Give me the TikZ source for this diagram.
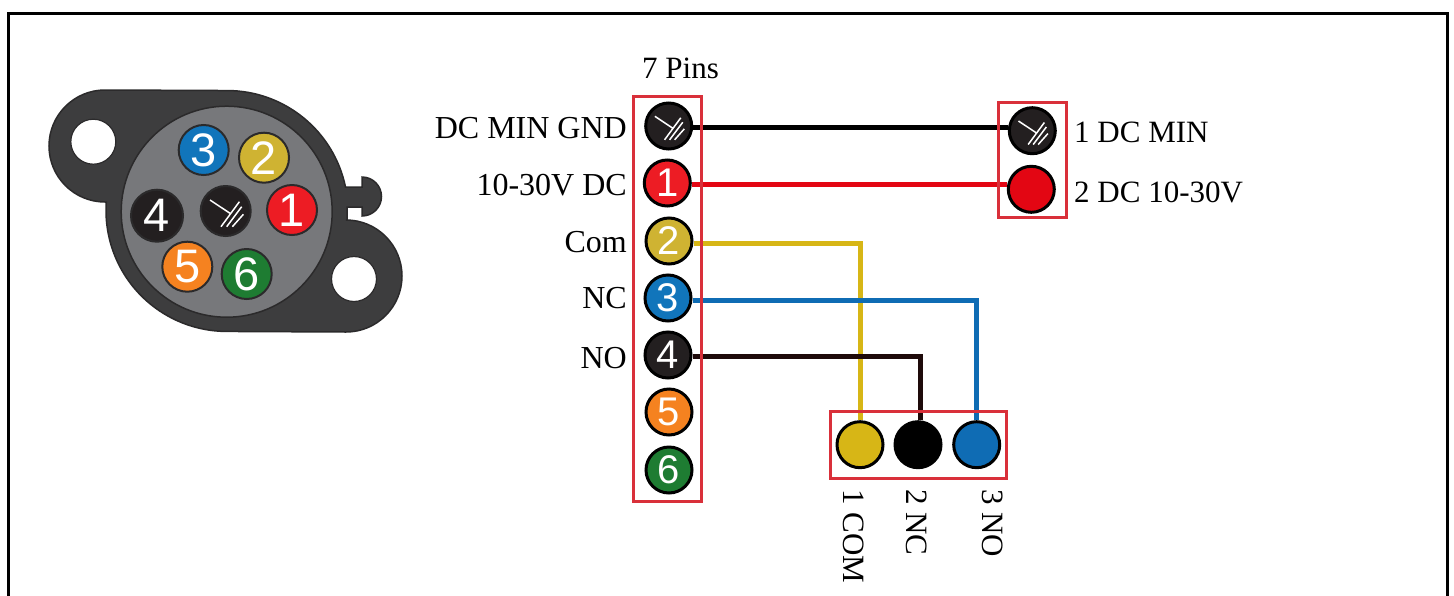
\documentclass[tikz,border=0pt]{standalone}
\usepackage{fontspec}
\setmainfont{Liberation Serif}
\newfontfamily\pinfont{Liberation Sans}
\definecolor{bodyc}{HTML}{3D3D3E}
\definecolor{edgec}{HTML}{2B2A2B}
\definecolor{grayc}{HTML}{77787B}
\definecolor{bluec}{HTML}{1175BB}
\definecolor{yelc}{HTML}{CFB332}
\definecolor{redc}{HTML}{ED1C24}
\definecolor{blkc}{HTML}{231F20}
\definecolor{orac}{HTML}{F58220}
\definecolor{grec}{HTML}{1E7C32}
\definecolor{framec}{HTML}{D9303A}
\definecolor{wyel}{HTML}{D7B616}
\definecolor{wred}{HTML}{E30613}
\definecolor{wblu}{HTML}{0F6CB4}
\definecolor{wbrn}{HTML}{1E0A0A}
\tikzset{
  x=1pt,y=-1pt,
  pinbase/.style={circle,inner sep=0pt,text=white,font=\pinfont\fontsize{40}{40}\selectfont},
  listpin/.style={pinbase,draw=black,line width=3pt,minimum size=46pt,fill=#1},
  plainpin/.style={pinbase,draw=black,line width=3pt,minimum size=46pt,fill=#1},
  sockpin/.style={pinbase,draw=edgec,line width=2pt,minimum size=50pt,fill=#1,font=\pinfont\fontsize{47}{47}\selectfont},
  wire/.style={line width=#1,line join=miter},
  redframe/.style={draw=framec,line width=3pt,inner sep=0pt,fill=none},
  lab/.style={font=\fontsize{31}{31}\selectfont,inner sep=0pt,text=black},
  leftlab/.style={font=\fontsize{32}{32}\selectfont,inner sep=0pt,text=black,anchor=base east},
  hole/.style={circle,fill=white,draw=edgec,line width=1.2pt,inner sep=0pt,minimum size=45pt},
  gnd/.pic={
    \draw[white,line width=1.5pt,scale=#1]
      (-15.7,-11)--(4.3,2.3) (13.7,-9.3)--(-4.7,15.7) (16,-4.3)--(1,15.7) (17.7,3.3)--(6.7,15.7);
  },
}
\begin{document}
\begin{tikzpicture}
\useasboundingbox (0,0) rectangle (1454,595);
\fill[white] (0,0) rectangle (1454,595);
% outer frame
\draw[black,line width=3pt,line join=miter] (8,597)--(8,13.5)--(1447,13.5)--(1447,597);
% connector body
\draw[fill=bodyc,draw=edgec,line width=1.5pt]
  (105,90) arc[start angle=-90,end angle=-270,radius=56]
  -- (106.3,202) arc[start angle=184,end angle=90,radius=121]
  -- (346,332) arc[start angle=90,end angle=-90,radius=56]
  -- (347,220) -- (347,207) -- (362,207) -- (362,216)
  arc[start angle=90,end angle=-90,radius=19.5]
  -- (362,187) -- (345.5,187)
  arc[start angle=-11.7,end angle=-90,radius=121]
  -- cycle;
\node[circle,fill=grayc,draw=edgec,line width=1.5pt,minimum size=211pt,inner sep=0pt] (face) at (226.7,211.7) {};
\node[hole] (h1) at (93.3,141.7) {};
\node[hole] (h2) at (354,279) {};
\node[sockpin=bluec] (s3) at (203.7,150) {3};
\node[sockpin=yelc] (s2) at (264,157.7) {2};
\node[sockpin=redc] (s1) at (292,210) {1};
\node[sockpin=blkc,minimum size=52pt] (s4) at (157,215.7) {4};
\node[sockpin=orac] (s5) at (187.3,266.7) {5};
\node[sockpin=grec] (s6) at (246.7,274) {6};
\node[sockpin=blkc] (s0) at (225.7,211) {};
\pic at (s0.center) {gnd=1};
% pin list
\node[listpin=blkc] (p0) at (668.7,126) {};
\pic at (p0.center) {gnd=0.88};
\node[listpin=redc] (p1) at (667.3,183) {1};
\node[listpin=yelc] (p2) at (669,241) {2};
\node[listpin=bluec] (p3) at (668,298) {3};
\node[listpin=blkc] (p4) at (668,355) {4};
\node[listpin=orac] (p5) at (669,412) {5};
\node[listpin=grec] (p6) at (669,470) {6};
% power terminal
\node[plainpin=blkc] (a1) at (1032.3,130.7) {};
\pic at (a1.center) {gnd=0.88};
\node[plainpin=wred] (a2) at (1031.3,189.3) {};
% relay terminal
\node[plainpin=wyel] (b1) at (860,444.7) {};
\node[plainpin=black] (b2) at (918,444.7) {};
\node[plainpin=wblu] (b3) at (976.7,444.7) {};
% wires
\draw[wire=5pt,black] ([yshift=-1pt]p0.east) -- ([yshift=-1pt]p0.east -| a1.west);
\draw[wire=5pt,wred] ([yshift=-1pt]p1.east) -- ([yshift=-1pt]p1.east -| a2.west);
\draw[wire=5pt,wyel] ([yshift=-2pt]p2.east) -| (b1.north);
\draw[wire=5pt,wblu] ([yshift=-2pt]p3.east) -| (b3.north);
\draw[wire=5pt,wbrn] ([yshift=-1.5pt]p4.east) -| ([xshift=2.5pt]b2.north);
% red boxes
\node[redframe,minimum width=67.5pt,minimum height=405pt] (frameP) at (667.25,298.5) {};
\node[redframe,minimum width=68pt,minimum height=115.7pt] (frameA) at (1032,159.85) {};
\node[redframe,minimum width=176.7pt,minimum height=67pt] (frameB) at (918.35,444.5) {};
% labels
\node[lab,anchor=base west] (t0) at (642,78) {7 Pins};
\node[leftlab] (l0) at (627,138) {DC MIN GND};
\node[leftlab] (l1) at (627,195) {10-30V DC};
\node[leftlab] (l2) at (627,252) {Com};
\node[leftlab] (l3) at (627,308) {NC};
\node[leftlab] (l4) at (627,368) {NO};
\node[lab,anchor=base west] (r1) at (1074,142) {1 DC MIN};
\node[lab,anchor=base west] (r2) at (1074,202) {2 DC 10-30V};
\node[lab,anchor=base west,rotate=-90] (v1) at (843,489) {1 COM};
\node[lab,anchor=base west,rotate=-90] (v2) at (906,489) {2 NC};
\node[lab,anchor=base west,rotate=-90] (v3) at (982,489) {3 NO};
\end{tikzpicture}
\end{document}
